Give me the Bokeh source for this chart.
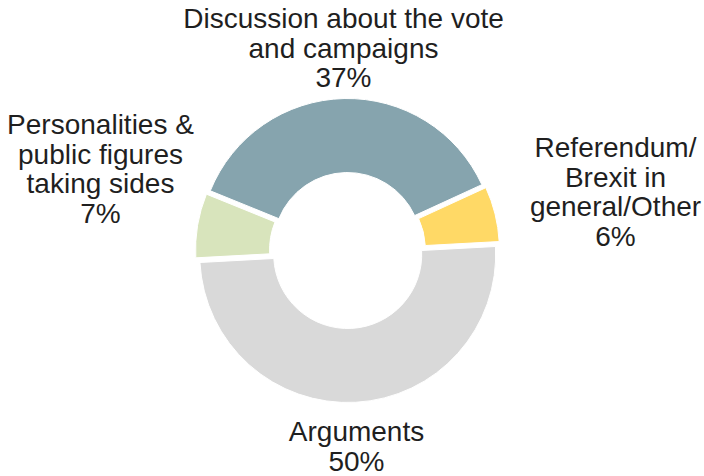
import math
from bokeh.plotting import figure
from bokeh.models import Range1d, ColumnDataSource
from bokeh.core.properties import value
from bokeh.embed import file_html
from bokeh.resources import INLINE

# ---- data ----
categories = [
    "Discussion about the vote\nand campaigns",
    "Referendum/\nBrexit in\ngeneral/Other",
    "Arguments",
    "Personalities &\npublic figures\ntaking sides",
]
shares = [37, 6, 50, 7]
colors = ["#86A4AE", "#FFD966", "#D9D9D9", "#D8E4BC"]

# ---- layout ----
W, H = 704, 476
CX, CY = 347, 250          # screen coords of donut centre
R_OUT, R_IN = 148, 74
EXPLODE = 4
START_DEG = 157.9          # first slice starts here, slices run clockwise
label_anchor = [(343, 18), (615, 147), (356, 431), (100, 124)]  # centre x, first line (screen)
LINE_GAP = 29.6
FONT = "Liberation Sans"
FONT_SIZE = "28px"
TEXT_COLOR = "#1f1f1f"

p = figure(width=W, height=H, x_range=Range1d(0, W), y_range=Range1d(0, H),
           output_backend="svg", toolbar_location=None,
           x_axis_type=None, y_axis_type=None, min_border=0)
p.grid.visible = False
p.outline_line_color = None
p.background_fill_color = "white"
p.border_fill_color = "white"

total = float(sum(shares))
a = START_DEG
wx, wy, ws, we = [], [], [], []
for s in shares:
    span = 360.0 * s / total
    a_end = a - span
    mid = math.radians((a + a_end) / 2.0)
    wx.append(CX + EXPLODE * math.cos(mid))
    wy.append((H - CY) + EXPLODE * math.sin(mid))
    ws.append(math.radians(a_end))
    we.append(math.radians(a))
    a = a_end

src = ColumnDataSource(dict(x=wx, y=wy, start=ws, end=we, color=colors))
p.annular_wedge(x="x", y="y", inner_radius=R_IN, outer_radius=R_OUT,
                inner_radius_units="screen", outer_radius_units="screen",
                start_angle="start", end_angle="end", direction="anticlock",
                fill_color="color", line_color="white", line_width=1, source=src)

tx, ty, tt = [], [], []
for cat, s, (ax, ay) in zip(categories, shares, label_anchor):
    lines = cat.split("\n") + [f"{s}%"]
    for i, ln in enumerate(lines):
        tx.append(ax)
        ty.append(H - (ay + i * LINE_GAP))
        tt.append(ln)

p.text(x=tx, y=ty, text=tt, text_font=value(FONT), text_font_size=FONT_SIZE,
       text_align="center", text_baseline="alphabetic", text_color=TEXT_COLOR)

open("out.html", "w").write(file_html(p, INLINE))
